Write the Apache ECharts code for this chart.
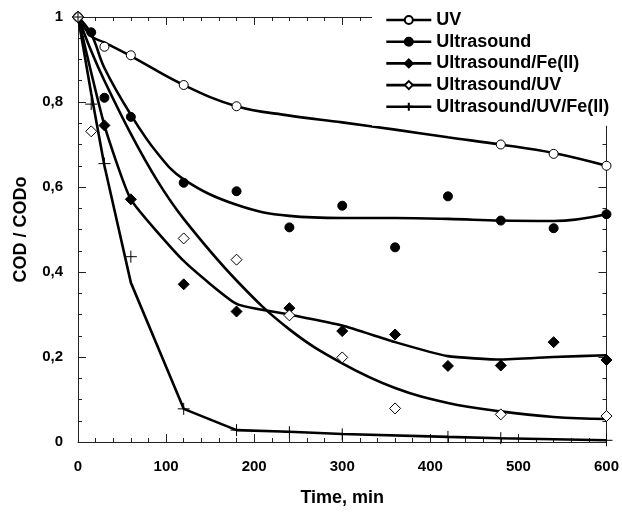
<!DOCTYPE html>
<html><head><meta charset="utf-8">
<script src="https://cdn.jsdelivr.net/npm/echarts@6/dist/echarts.min.js"></script>
<style>html,body{margin:0;padding:0;background:#fff}#c{width:622px;height:512px}</style>
</head><body><div id="c"></div>
<script>
// Series names (legend)
const names = ['UV', 'Ultrasound', 'Ultrasound/Fe(II)', 'Ultrasound/UV', 'Ultrasound/UV/Fe(II)'];

// Measured points (markers)
const uvX   = [0, 30, 60, 120, 180, 480, 540, 600];
const uvY   = [1, 0.93, 0.91, 0.84, 0.79, 0.70, 0.678, 0.65];
const usX   = [0, 15, 30, 60, 120, 180, 240, 300, 360, 420, 480, 540, 600];
const usY   = [1, 0.964, 0.81, 0.765, 0.61, 0.59, 0.505, 0.556, 0.458, 0.578, 0.521, 0.503, 0.536];
const feX   = [0, 30, 60, 120, 180, 240, 300, 360, 420, 480, 540, 600];
const feY   = [1, 0.745, 0.571, 0.371, 0.307, 0.315, 0.261, 0.253, 0.179, 0.18, 0.235, 0.193];
const usuvX = [0, 15, 120, 180, 240, 300, 360, 480, 600];
const usuvY = [1, 0.731, 0.479, 0.429, 0.298, 0.199, 0.079, 0.065, 0.061];
const allX  = [0, 15, 30, 60, 120, 180, 240, 300, 420, 480, 600];
const allY  = [1, 0.795, 0.655, 0.436, 0.078, 0.028, 0.023, 0.018, 0.012, 0.009, 0.004];

// Fitted curves (lines)
const uvFitX   = [0, 15, 30, 60, 120, 180, 240, 300, 360, 420, 480, 540, 600];
const uvFitY   = [1, 0.955, 0.94, 0.908, 0.84, 0.79, 0.768, 0.752, 0.735, 0.717, 0.70, 0.68, 0.65];
const usFitX   = [0, 15, 30, 60, 90, 120, 180, 240, 300, 360, 420, 480, 540, 600];
const usFitY   = [1, 0.96, 0.88, 0.77, 0.68, 0.618, 0.558, 0.532, 0.527, 0.527, 0.525, 0.521, 0.52, 0.536];
const feFitX   = [0, 30, 60, 120, 180, 240, 300, 360, 420, 480, 540, 600];
const feFitY   = [1, 0.745, 0.571, 0.426, 0.325, 0.30, 0.274, 0.235, 0.202, 0.194, 0.20, 0.204];
const usuvFitX = [0, 15, 30, 60, 90, 120, 180, 240, 300, 360, 420, 480, 540, 600];
const usuvFitY = [1, 0.92, 0.85, 0.725, 0.615, 0.525, 0.38, 0.265, 0.185, 0.127, 0.092, 0.072, 0.059, 0.054];
const allFitX  = [0, 15, 30, 60, 120, 180, 240, 300, 420, 480, 600];
const allFitY  = [1, 0.82, 0.65, 0.375, 0.078, 0.028, 0.024, 0.019, 0.012, 0.009, 0.004];

// Axis ticks
const xTickValues = [0, 100, 200, 300, 400, 500, 600];
const yTickValues = [0, 0.2, 0.4, 0.6, 0.8, 1];

const zip = (xs, ys) => xs.map((x, i) => [x, ys[i]]);
const FONT = "'Liberation Sans', Arial, sans-serif";
const PLUS = 'path://M0,6L12,6M6,0L6,12';

const styles = [
  { sym: 'circle', size: 9, smooth: 0.4, fill: '#fff' },
  { sym: 'circle', size: 9, smooth: 0.4, fill: '#000' },
  { sym: 'diamond', size: 11, smooth: 0.15, fill: '#000' },
  { sym: 'diamond', size: 11, smooth: 0.4, fill: '#fff' },
  { sym: PLUS, size: 12, smooth: false, fill: '#000' }
];
const fits = [zip(uvFitX, uvFitY), zip(usFitX, usFitY), zip(feFitX, feFitY), zip(usuvFitX, usuvFitY), zip(allFitX, allFitY)];
const pts = [zip(uvX, uvY), zip(usX, usY), zip(feX, feY), zip(usuvX, usuvY), zip(allX, allY)];

const series = [];
names.forEach((n, i) => {
  series.push({
    type: 'line', name: n, data: fits[i], smooth: styles[i].smooth,
    showSymbol: false, symbol: styles[i].sym, symbolSize: styles[i].size,
    lineStyle: { color: '#000', width: 2.6 },
    itemStyle: { color: styles[i].fill, borderColor: '#000', borderWidth: 1, opacity: 1 },
    xAxisIndex: 0, yAxisIndex: 0, z: 2
  });
});
names.forEach((n, i) => {
  series.push({
    type: 'scatter', name: n, data: pts[i], symbol: styles[i].sym, symbolSize: styles[i].size,
    itemStyle: { color: styles[i].fill, borderColor: '#000', borderWidth: 1, opacity: 1 },
    xAxisIndex: 0, yAxisIndex: 0, z: 3
  });
});

const fmtY = v => String(v).replace('.', ',');
const axisLine = { show: true, onZero: false, lineStyle: { color: '#222', width: 1 } };

const option = {
  animation: false,
  backgroundColor: '#fff',
  grid: { left: 78, right: 12, top: 17, bottom: 66, show: false },
  legend: {
    data: names, orient: 'vertical', left: 372, top: 0,
    padding: [11, 17, 10, 13], backgroundColor: '#fff',
    itemWidth: 45, itemHeight: 10, itemGap: 3.7,
    textStyle: { fontFamily: FONT, fontWeight: 'bold', fontSize: 18, color: '#000', lineHeight: 18 },
    lineStyle: { width: 2.6, color: '#000' },
    z: 10, selectedMode: false
  },
  xAxis: [{
    type: 'value', min: 0, max: 600, interval: 100, position: 'bottom',
    name: 'Time, min', nameLocation: 'middle', nameGap: 47,
    nameTextStyle: { fontFamily: FONT, fontWeight: 'bold', fontSize: 18, color: '#000' },
    axisLine: axisLine,
    axisTick: { show: true, inside: true, length: 8, lineStyle: { color: '#222' } },
    minorTick: { show: true, splitNumber: 5, length: 4, lineStyle: { color: '#222' } },
    axisLabel: { fontFamily: FONT, fontWeight: 'bold', fontSize: 15, color: '#000', margin: 17,
      formatter: v => xTickValues.includes(v) ? String(v) : '' },
    splitLine: { show: false }
  }, {
    type: 'value', min: 0, max: 600, interval: 100, position: 'top',
    axisLine: axisLine,
    axisTick: { show: true, inside: true, length: 8, lineStyle: { color: '#222' } },
    minorTick: { show: true, splitNumber: 5, length: 4, lineStyle: { color: '#222' } },
    axisLabel: { show: false }, splitLine: { show: false }
  }],
  yAxis: [{
    type: 'value', min: 0, max: 1, interval: 0.2, position: 'left',
    name: 'COD / CODo', nameLocation: 'middle', nameGap: 48,
    nameTextStyle: { fontFamily: FONT, fontWeight: 'bold', fontSize: 18, color: '#000' },
    axisLine: axisLine,
    axisTick: { show: true, inside: true, length: 8, lineStyle: { color: '#222' } },
    minorTick: { show: true, splitNumber: 4, length: 4, lineStyle: { color: '#222' } },
    axisLabel: { fontFamily: FONT, fontWeight: 'bold', fontSize: 15, color: '#000', margin: 15,
      formatter: v => yTickValues.some(t => Math.abs(t - v) < 1e-9) ? fmtY(Math.round(v * 10) / 10) : '' },
    splitLine: { show: false }
  }, {
    type: 'value', min: 0, max: 1, interval: 0.2, position: 'right',
    axisLine: axisLine,
    axisTick: { show: true, inside: true, length: 8, lineStyle: { color: '#222' } },
    minorTick: { show: true, splitNumber: 4, length: 4, lineStyle: { color: '#222' } },
    axisLabel: { show: false }, splitLine: { show: false }
  }],
  series: series
};

const chart = echarts.init(document.getElementById('c'), null, { renderer: 'canvas' });
chart.setOption(option);
</script>
</body></html>
